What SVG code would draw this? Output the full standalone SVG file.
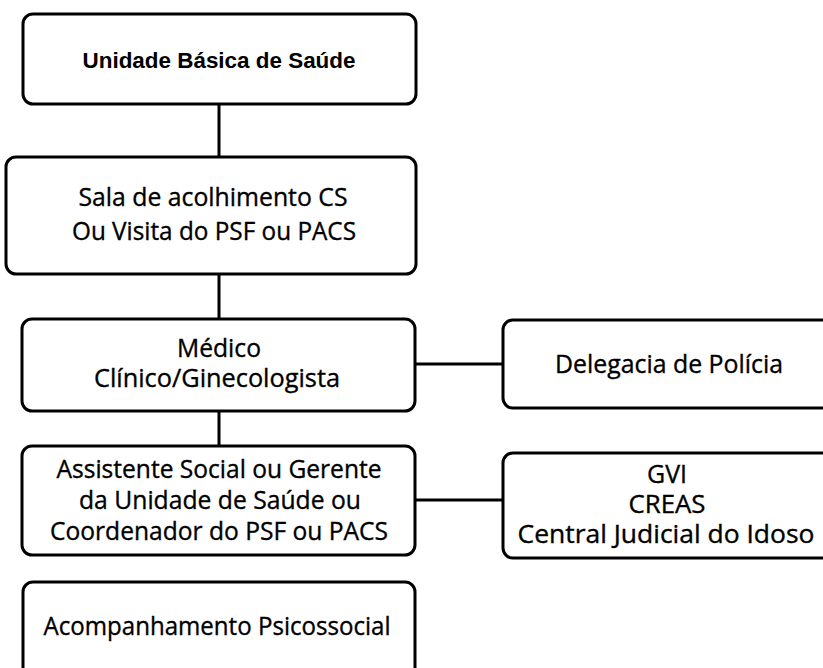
<svg xmlns="http://www.w3.org/2000/svg" width="823" height="668" viewBox="0 0 823 668">
<style>
.box{fill:#fff;stroke:#000;stroke-width:3}
.t{font-family:"Open Sans","Noto Sans","Liberation Sans",sans-serif;font-size:25px;fill:#000;stroke:#000;stroke-width:0.35;text-anchor:middle}
.b{font-family:"Liberation Sans",Arial,sans-serif;font-size:22px;font-weight:bold;fill:#000;text-anchor:middle}
.c{stroke:#000;stroke-width:3;fill:none}
</style>
<rect width="823" height="668" fill="#fff"/>
<g id="connectors">
<line class="c" x1="219" y1="104" x2="219" y2="157"/>
<line class="c" x1="219" y1="274" x2="219" y2="319"/>
<line class="c" x1="219" y1="411" x2="219" y2="446"/>
<line class="c" x1="415" y1="364" x2="503" y2="364"/>
<line class="c" x1="415" y1="500" x2="503" y2="500"/>
</g>
<g id="ubs">
<rect class="box" x="23" y="14" width="393" height="90" rx="10"/>
<text class="b" x="219" y="68" textLength="273" lengthAdjust="spacingAndGlyphs">Unidade Básica de Saúde</text>
</g>
<g id="sala">
<rect class="box" x="6" y="157" width="410" height="117" rx="10"/>
<text class="t" x="213" y="206" textLength="269" lengthAdjust="spacingAndGlyphs">Sala de acolhimento CS</text>
<text class="t" x="214" y="240" textLength="284" lengthAdjust="spacingAndGlyphs">Ou Visita do PSF ou PACS</text>
</g>
<g id="medico">
<rect class="box" x="22" y="319" width="393" height="92" rx="10"/>
<text class="t" x="219" y="357" textLength="84" lengthAdjust="spacingAndGlyphs">Médico</text>
<text class="t" x="217" y="387" textLength="246" lengthAdjust="spacingAndGlyphs">Clínico/Ginecologista</text>
</g>
<g id="delegacia">
<rect class="box" x="503" y="320" width="330" height="88" rx="10"/>
<text class="t" x="669" y="373" textLength="228" lengthAdjust="spacingAndGlyphs">Delegacia de Polícia</text>
</g>
<g id="assistente">
<rect class="box" x="22" y="446" width="393" height="109" rx="10"/>
<text class="t" x="219" y="478" textLength="325" lengthAdjust="spacingAndGlyphs">Assistente Social ou Gerente</text>
<text class="t" x="220" y="509" textLength="282" lengthAdjust="spacingAndGlyphs">da Unidade de Saúde ou</text>
<text class="t" x="219" y="540" textLength="338" lengthAdjust="spacingAndGlyphs">Coordenador do PSF ou PACS</text>
</g>
<g id="gvi">
<rect class="box" x="503" y="453" width="330" height="105" rx="10"/>
<text class="t" x="667" y="483" textLength="40" lengthAdjust="spacingAndGlyphs">GVI</text>
<text class="t" x="667" y="513" textLength="77" lengthAdjust="spacingAndGlyphs">CREAS</text>
<text class="t" x="666" y="543" textLength="297" lengthAdjust="spacingAndGlyphs">Central Judicial do Idoso</text>
</g>
<g id="acompanhamento">
<rect class="box" x="23" y="582" width="392" height="100" rx="10"/>
<text class="t" x="217" y="635" textLength="347" lengthAdjust="spacingAndGlyphs">Acompanhamento Psicossocial</text>
</g>
</svg>
